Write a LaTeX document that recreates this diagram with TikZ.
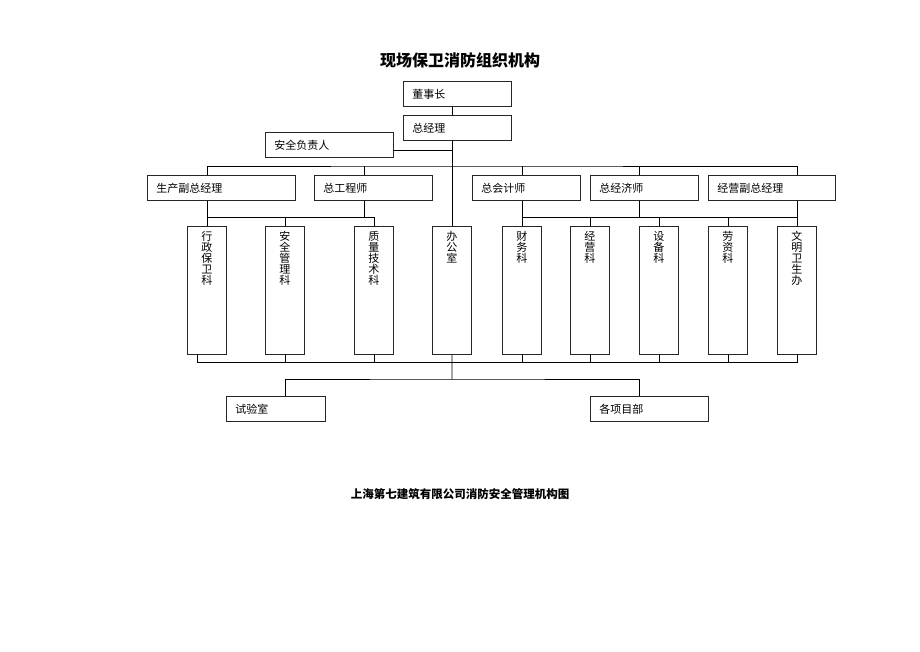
\documentclass[tikz,border=0pt]{standalone}
\usepackage{fontspec}
\setmainfont{Noto Sans CJK SC}
\usetikzlibrary{positioning}
\tikzset{org/.style={x=1pt,y=-1pt,font=\fontsize{11}{11}\selectfont}}
\tikzset{hbox/.style={draw=black!85,line width=0.9pt,anchor=north west,minimum height=25pt,inner xsep=9pt,inner ysep=0pt,align=left}}
\tikzset{vbox/.style={draw=black!85,line width=0.9pt,anchor=north west,inner sep=0pt}}
\tikzset{link/.style={draw=black,line width=0.9pt}}
\newcommand{\vtxt}[1]{\parbox[c][128pt][t]{39pt}{\centering\vspace*{5pt}#1}}

\begin{document}
\begin{tikzpicture}[org]
  \useasboundingbox (0,0) rectangle (920,651);
  \node[font=\bfseries\fontsize{16}{16}\selectfont] (title) at (460,60) {现场保卫消防组织机构};
  % top of the chart
  \node[hbox,text width=90pt] (dsz) at (403,81) {董事长};
  \node[hbox,text width=90pt] (zjl) at (403,115) {总经理};
  \node[hbox,text width=110pt] (aqfz) at (265,132) {安全负责人};
  % second row
  \node[hbox,text width=130pt] (scfz) at (147,175) {生产副总经理};
  \node[hbox,text width=100pt] (zgcs) at (314,175) {总工程师};
  \node[hbox,text width=90pt] (zkjs) at (472,175) {总会计师};
  \node[hbox,text width=90pt] (zjjs) at (590,175) {总经济师};
  \node[hbox,text width=109pt] (jyfz) at (708,175) {经营副总经理};
  % departments
  \node[vbox] (xzbw) at (187,226) {\vtxt{行\\政\\保\\卫\\科}};
  \node[vbox] (aqgl) at (265,226) {\vtxt{安\\全\\管\\理\\科}};
  \node[vbox] (zljs) at (354,226) {\vtxt{质\\量\\技\\术\\科}};
  \node[vbox] (bgs) at (432,226) {\vtxt{办\\公\\室}};
  \node[vbox] (cwk) at (502,226) {\vtxt{财\\务\\科}};
  \node[vbox] (jyk) at (570,226) {\vtxt{经\\营\\科}};
  \node[vbox] (sbk) at (639,226) {\vtxt{设\\备\\科}};
  \node[vbox] (lzk) at (708,226) {\vtxt{劳\\资\\科}};
  \node[vbox] (wmws) at (777,226) {\vtxt{文\\明\\卫\\生\\办}};
  % bottom row
  \node[hbox,text width=81pt] (syz) at (226,396) {试验室};
  \node[hbox,text width=100pt] (xmb) at (590,396) {各项目部};
  \node[font=\bfseries\fontsize{11.5}{11.5}\selectfont] (caption) at (460,494) {上海第七建筑有限公司消防安全管理机构图};

  \coordinate (t1) at (452,166);
  \coordinate (t2) at (452,217);
  \coordinate (t3) at (452,362);
  \coordinate (t4) at (452,379);
  % trunk
  \draw[link] (dsz.south -| bgs) -- (zjl.north -| bgs);
  \draw[link] (zjl.south -| bgs) -- (bgs.north);
  \draw[link] ([yshift=-5pt]aqfz.east) -- ([yshift=-5pt]aqfz.east -| bgs);
  \draw[link] (scfz.north -| xzbw) |- (t1) -| (jyfz.north -| wmws);
  \path[link]
    ([xshift=-9pt]zgcs.north) edge ([xshift=-9pt]zgcs.north |- t1)
    (zkjs.north -| cwk) edge (t1 -| cwk)
    ([xshift=-5pt]zjjs.north) edge ([xshift=-5pt]zjjs.north |- t1);
  % down to the departments
  \draw[link] (scfz.south -| xzbw) -- (xzbw.north);
  \draw[link] (xzbw.north |- t2) -| (zljs.north);
  \draw[link] ([xshift=-9pt]zgcs.south) -- ([xshift=-9pt]zgcs.south |- t2);
  \draw[link] (aqgl.north) -- (aqgl.north |- t2);
  \draw[link] (zkjs.south -| cwk) -- (cwk.north);
  \draw[link] (jyfz.south -| wmws) -- (wmws.north);
  \draw[link] (cwk.north |- t2) -- (wmws.north |- t2);
  \path[link]
    ([xshift=-5pt]zjjs.south) edge ([xshift=-5pt]zjjs.south |- t2)
    (jyk.north) edge (jyk.north |- t2)
    (sbk.north) edge (sbk.north |- t2)
    (lzk.north) edge (lzk.north |- t2);
  % bottom collector
  \draw[link] ([xshift=-10pt]xzbw.south) |- (t3 -| wmws) -- (wmws.south);
  \path[link]
    (aqgl.south) edge (aqgl.south |- t3)
    (zljs.south) edge (zljs.south |- t3)
    (cwk.south) edge (cwk.south |- t3)
    (jyk.south) edge (jyk.south |- t3)
    (sbk.south) edge (sbk.south |- t3)
    (lzk.south) edge (lzk.south |- t3);
  \draw[link] (bgs.south) -- (t4);
  \draw[link] (syz.north -| aqgl) |- (t4) -| ([xshift=-10pt]xmb.north);
\end{tikzpicture}
\end{document}
